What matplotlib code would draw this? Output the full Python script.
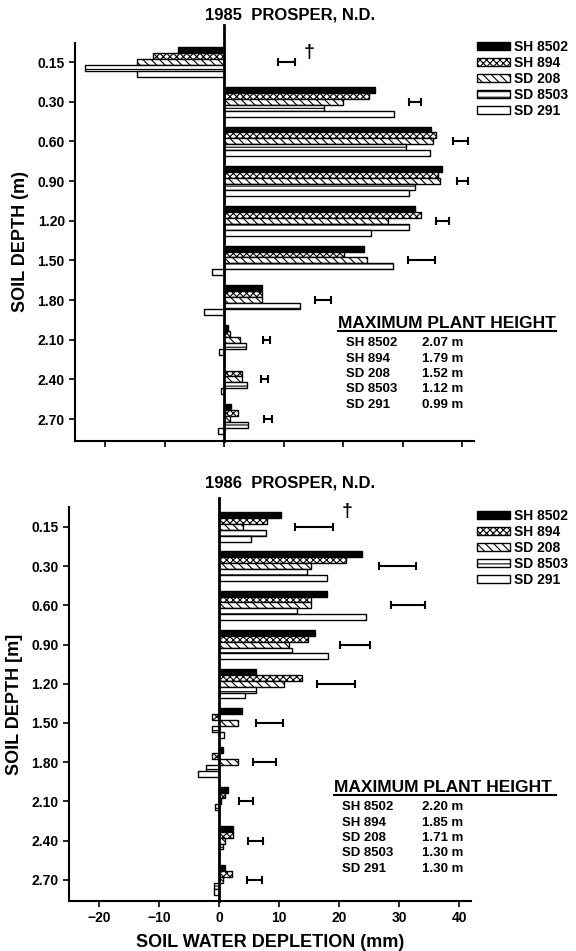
import numpy as np
import matplotlib
matplotlib.use("Agg")
import matplotlib.pyplot as plt
from matplotlib.patches import Patch
from matplotlib.lines import Line2D

plt.rcParams['font.family'] = ['Liberation Sans', 'DejaVu Sans']
plt.rcParams['font.weight'] = 'bold'
plt.rcParams['hatch.linewidth'] = 0.8

## data
depths = ['0.15', '0.30', '0.60', '0.90', '1.20', '1.50', '1.80', '2.10', '2.40', '2.70']
cultivars = ['SH 8502', 'SH 894', 'SD 208', 'SD 8503', 'SD 291']

# 1985 soil water depletion (mm)
sh8502_85 = [-7.8, 25.4, 34.7, 36.6, 32.1, 23.4, 6.4, 0.6, 0.0, 1.2]
sh894_85 = [-12.0, 24.3, 35.6, 35.9, 33.1, 20.1, 6.4, 1.0, 3.0, 2.3]
sd208_85 = [-14.6, 19.9, 35.0, 36.2, 27.5, 24.0, 6.4, 2.7, 3.0, 1.0]
sd8503_85 = [-23.4, 16.7, 30.5, 32.0, 31.0, 28.3, 12.7, 3.7, 3.9, 4.0]
sd291_85 = [-14.6, 28.5, 34.6, 31.0, 24.7, -2.0, -3.4, -0.9, -0.6, -1.0]
lsd_mid_85 = [10.5, 32.0, 39.7, 40.0, 36.6, 33.1, 16.6, 7.1, 6.8, 7.4]
lsd_half_85 = [1.4, 1.0, 1.3, 1.0, 1.1, 2.3, 1.3, 0.6, 0.6, 0.65]
height_85 = [2.07, 1.79, 1.52, 1.12, 0.99]

# 1986 soil water depletion (mm)
sh8502_86 = [10.3, 23.9, 18.0, 16.0, 6.1, 3.9, 0.7, 1.5, 2.4, 1.0]
sh894_86 = [8.0, 21.1, 15.3, 14.8, 13.9, -1.2, -1.2, 1.0, 2.4, 2.1]
sd208_86 = [4.0, 15.3, 15.3, 11.7, 10.8, 3.1, 3.1, 0.4, 1.0, 0.7]
sd8503_86 = [7.8, 14.6, 13.0, 12.2, 6.1, -1.1, -2.2, -0.7, 0.6, -0.8]
sd291_86 = [5.3, 18.0, 24.5, 18.1, 4.4, 0.9, -3.5, 0.0, 0.0, -0.8]
lsd_mid_86 = [15.8, 29.8, 31.5, 22.6, 19.5, 8.4, 7.6, 4.5, 6.1, 5.9]
lsd_half_86 = [3.2, 3.1, 2.85, 2.5, 3.1, 2.2, 1.9, 1.2, 1.3, 1.3]
height_86 = [2.20, 1.85, 1.71, 1.30, 1.30]

## bar styles (facecolor, hatch)
styles = [('black', None), ('white', 'xxxxx'), ('white', '\\\\\\\\'),
          ('white', '---'), ('white', None)]

fig = plt.figure(figsize=(5.76, 9.51), dpi=100)


def panel(rect, series, lsd_mid, lsd_half, ylim, zero_top, show_xlabels):
    ax = fig.add_axes(rect)
    pos = np.arange(len(depths))
    h = 0.15
    for k, vals in enumerate(series):
        fc, hatch = styles[k]
        ax.barh(pos + (k - 2) * h, vals, height=h, color=fc, hatch=hatch,
                edgecolor='black', linewidth=1.0)
    ax.errorbar(lsd_mid, pos, xerr=lsd_half, fmt='none', ecolor='black',
                elinewidth=1.5, capsize=3, capthick=1.5)
    ax.plot([0, 0], [ylim[0], zero_top], color='black', lw=2, clip_on=False)
    ax.set_xlim(-25, 42)
    ax.set_ylim(*ylim)
    ax.set_yticks(pos)
    ax.set_yticklabels(depths, fontsize=10, fontweight='bold')
    ax.set_xticks([-20, -10, 0, 10, 20, 30, 40])
    if show_xlabels:
        ax.set_xticklabels(['\u221220', '\u221210', '0', '10', '20', '30', '40'],
                           fontsize=10, fontweight='bold')
    else:
        ax.set_xticklabels([])
    ax.tick_params(length=4, width=1.2)
    for s in ['top', 'right']:
        ax.spines[s].set_visible(False)
    for s in ['left', 'bottom']:
        ax.spines[s].set_linewidth(1.5)
    return ax


ax1 = panel([0.1306, 0.5363, 0.693, 0.4185],
            [sh8502_85, sh894_85, sd208_85, sd8503_85, sd291_85],
            lsd_mid_85, lsd_half_85, (9.55, -0.48), -0.93, False)
ax1.text(14.3, -0.25, '\u2020', fontsize=14, ha='center', va='center')
ax1.set_ylabel('SOIL DEPTH (m)', fontsize=13, fontweight='bold', labelpad=6)

ax2 = panel([0.1198, 0.0526, 0.698, 0.4143],
            [sh8502_86, sh894_86, sd208_86, sd8503_86, sd291_86],
            lsd_mid_86, lsd_half_86, (9.54, -0.51), -0.74, True)
ax2.text(21.3, -0.39, '\u2020', fontsize=14, ha='center', va='center')
ax2.set_ylabel('SOIL DEPTH [m]', fontsize=13, fontweight='bold', labelpad=6)
ax2.set_xlabel('SOIL WATER DEPLETION (mm)', fontsize=13, fontweight='bold',
               labelpad=6)

fig.text(290 / 576, 1 - 15 / 951, '1985  PROSPER, N.D.', ha='center',
         va='center', fontsize=12, fontweight='bold')
fig.text(290 / 576, 1 - 483 / 951, '1986  PROSPER, N.D.', ha='center',
         va='center', fontsize=12, fontweight='bold')

# legends
handles = [Patch(facecolor=fc, edgecolor='black', hatch=hatch, linewidth=1.0)
           for fc, hatch in styles]
for ytop in [40, 509]:
    fig.legend(handles, cultivars, loc='upper left',
               bbox_to_anchor=(477 / 576, 1 - ytop / 951), frameon=False,
               handlelength=2.4, handleheight=0.5, labelspacing=0.15,
               handletextpad=0.3, borderaxespad=0, borderpad=0,
               prop={'size': 10, 'weight': 'bold'})

# maximum plant height tables
for ytitle, xtitle, heights in [(323, 338, height_85), (787, 334, height_86)]:
    fig.text(xtitle / 576, 1 - ytitle / 951, 'MAXIMUM PLANT HEIGHT',
             fontsize=12.5, fontweight='bold', va='center', ha='left')
    fig.add_artist(Line2D([xtitle / 576, 556 / 576],
                          [1 - (ytitle + 8) / 951] * 2, color='black', lw=1.5))
    for i, (name, hv) in enumerate(zip(cultivars, heights)):
        y = 1 - (ytitle + 20 + 15.5 * i) / 951
        fig.text((xtitle + 8) / 576, y, name, fontsize=9.5, fontweight='bold',
                 va='center', ha='left')
        fig.text(422 / 576, y, '%.2f m' % hv, fontsize=9.5, fontweight='bold',
                 va='center', ha='left')

fig.savefig('out.png', dpi=100)
